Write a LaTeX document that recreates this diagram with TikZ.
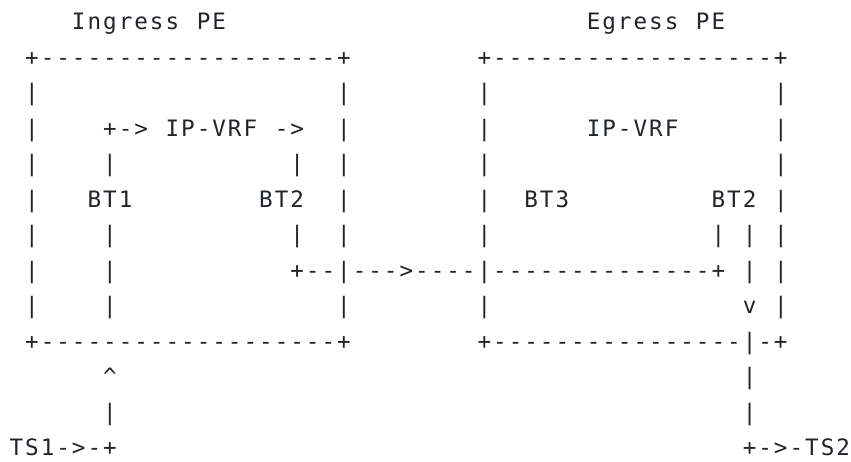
\documentclass[tikz,border=0pt]{standalone}
\usepackage{fontspec}
\newfontfamily\asciifont{DejaVu Sans Mono}
\definecolor{ink}{RGB}{33,37,41}
\makeatletter
\def\gridchars#1{\gridloop#1\relax}
\def\gridloop#1{\ifx#1\relax\else\makebox[15.6pt][c]{#1}\expandafter\gridloop\fi}
\makeatother
\newcommand\asc[4]{\node[asc] (#1) at ({8.6+15.6*#2},{29.5+35.53*#3}) {\gridchars{#4}};}
\begin{document}
\begin{tikzpicture}[x=1pt,y=-1pt,
  asc/.style={anchor=base west,inner sep=0pt,outer sep=0pt,text=ink,
    font=\asciifont\fontsize{22.6}{27}\selectfont}]
\useasboundingbox[fill=white] (0,0) rectangle (851,461);
% row 0
\asc{ingress}{4}{0}{Ingress~PE}
\asc{egress}{37}{0}{Egress~PE}
% row 1
\asc{itop}{1}{1}{+-------------------+}
\asc{etop}{30}{1}{+------------------+}
% row 2
\asc{a1}{1}{2}{|}\asc{a2}{21}{2}{|}\asc{a3}{30}{2}{|}\asc{a4}{49}{2}{|}
% row 3
\asc{b1}{1}{3}{|}\asc{ivrf}{6}{3}{+->~IP-VRF~->}\asc{b2}{21}{3}{|}
\asc{b3}{30}{3}{|}\asc{evrf}{37}{3}{IP-VRF}\asc{b4}{49}{3}{|}
% row 4
\asc{c1}{1}{4}{|}\asc{c2}{6}{4}{|}\asc{c3}{18}{4}{|}\asc{c4}{21}{4}{|}
\asc{c5}{30}{4}{|}\asc{c6}{49}{4}{|}
% row 5
\asc{d1}{1}{5}{|}\asc{bt1}{5}{5}{BT1}\asc{bt2i}{16}{5}{BT2}\asc{d2}{21}{5}{|}
\asc{d3}{30}{5}{|}\asc{bt3}{33}{5}{BT3}\asc{bt2e}{45}{5}{BT2}\asc{d4}{49}{5}{|}
% row 6
\asc{e1}{1}{6}{|}\asc{e2}{6}{6}{|}\asc{e3}{18}{6}{|}\asc{e4}{21}{6}{|}
\asc{e5}{30}{6}{|}\asc{e6}{45}{6}{|}\asc{e7}{47}{6}{|}\asc{e8}{49}{6}{|}
% row 7
\asc{f1}{1}{7}{|}\asc{f2}{6}{7}{|}
\asc{tunnel}{18}{7}{+--|--->----|--------------+}
\asc{f3}{47}{7}{|}\asc{f4}{49}{7}{|}
% row 8
\asc{g1}{1}{8}{|}\asc{g2}{6}{8}{|}\asc{g3}{21}{8}{|}\asc{g4}{30}{8}{|}
\asc{gv}{47}{8}{v}\asc{g5}{49}{8}{|}
% row 9
\asc{ibot}{1}{9}{+-------------------+}
\asc{ebot}{30}{9}{+----------------|-+}
% row 10
\asc{up}{6}{10}{\textasciicircum}\asc{h1}{47}{10}{|}
% row 11
\asc{i1}{6}{11}{|}\asc{i2}{47}{11}{|}
% row 12
\asc{ts1}{0}{12}{TS1->-+}
\asc{ts2}{47}{12}{+->-TS2}
\end{tikzpicture}
\end{document}
